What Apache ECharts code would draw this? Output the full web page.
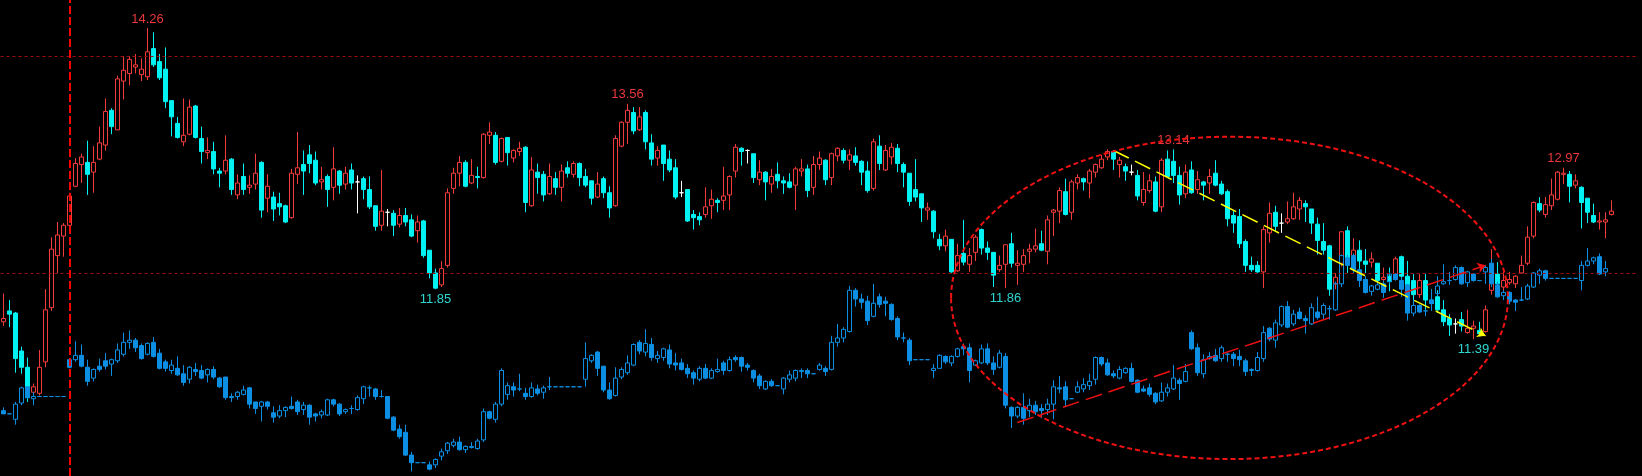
<!DOCTYPE html>
<html><head><meta charset="utf-8">
<script src="https://cdn.jsdelivr.net/npm/echarts@6/dist/echarts.min.js"></script>
<style>html,body{margin:0;padding:0;background:#000;}#c{width:1642px;height:476px;}</style>
</head><body><div id="c"></div>
<script>
// [open, close, low, high]
const upperCandles = [
[11.55,11.58,11.51,11.81],[11.65,11.62,11.50,11.75],[11.63,11.21,11.08,11.64],[11.28,11.13,11.07,11.32],[11.13,10.85,10.81,11.22],
[10.90,10.95,10.87,10.98],[10.89,11.13,10.87,11.29],[11.18,11.66,11.13,11.85],[11.68,12.22,11.65,12.33],[12.16,12.35,12.00,12.47],
[12.34,12.44,12.15,12.46],[12.44,12.71,12.43,12.74],[12.80,13.01,12.79,13.06],[13.00,13.07,12.83,13.10],[13.02,12.91,12.72,13.22],
[12.93,13.02,12.74,13.17],[13.05,13.20,13.04,13.35],[13.18,13.49,13.13,13.61],[13.50,13.35,13.28,13.52],[13.32,13.79,13.32,13.82],
[13.77,13.87,13.60,14.00],[13.84,13.97,13.73,14.00],[13.90,13.92,13.84,14.02],[13.83,13.88,13.77,13.98],[13.81,14.04,13.78,14.26],
[14.07,13.92,13.90,14.22],[13.95,13.80,13.78,14.02],[13.88,13.58,13.52,14.08],[13.59,13.44,13.26,13.59],[13.38,13.25,13.24,13.44],
[13.21,13.27,13.17,13.61],[13.28,13.53,13.27,13.60],[13.54,13.25,13.24,13.55],[13.24,13.12,13.01,13.35],[13.11,13.13,13.05,13.25],
[13.12,12.96,12.91,13.21],[12.94,12.92,12.79,12.97],[12.94,13.04,12.91,13.27],[13.05,12.77,12.72,13.06],[12.72,12.83,12.68,12.91],
[12.89,12.77,12.72,13.01],[12.79,12.81,12.73,12.90],[12.82,12.92,12.77,13.10],[13.02,12.58,12.51,13.03],[12.69,12.80,12.56,12.91],
[12.70,12.59,12.48,12.75],[12.64,12.61,12.53,12.74],[12.62,12.47,12.46,12.63],[12.51,12.92,12.50,12.96],[12.91,12.97,12.82,13.30],
[13.00,12.94,12.72,13.13],[13.09,13.01,12.92,13.18],[13.04,12.83,12.81,13.12],[12.84,12.86,12.77,12.98],[12.89,12.77,12.61,12.91],
[12.79,12.96,12.67,13.16],[12.94,12.81,12.73,12.95],[12.82,12.92,12.77,12.98],[12.95,12.83,12.77,13.01],[12.84,12.84,12.55,12.90],
[12.87,12.77,12.68,12.89],[12.77,12.61,12.59,12.89],[12.62,12.43,12.39,12.62],[12.44,12.57,12.39,12.95],[12.56,12.56,12.43,12.59],
[12.55,12.44,12.34,12.58],[12.45,12.53,12.42,12.60],[12.53,12.47,12.43,12.60],[12.49,12.34,12.33,12.54],[12.39,12.47,12.28,12.53],
[12.48,12.16,12.14,12.49],[12.21,12.00,11.95,12.21],[12.00,11.86,11.85,12.04],[11.89,12.04,11.87,12.11],[12.07,12.74,12.05,12.78],
[12.78,12.92,12.73,12.97],[12.92,13.02,12.80,13.08],[13.02,12.80,12.79,13.04],[12.83,12.90,12.82,13.05],[12.89,12.88,12.78,12.98],
[12.88,13.28,12.87,13.29],[13.27,13.30,13.19,13.39],[13.27,13.02,13.00,13.30],[13.03,13.24,13.02,13.25],[13.25,13.11,12.99,13.25],
[13.06,13.13,13.02,13.14],[13.12,13.15,13.08,13.21],[13.16,12.65,12.56,13.17],[12.62,12.95,12.61,13.07],[12.93,12.88,12.73,13.01],
[12.91,12.72,12.66,12.94],[12.73,12.89,12.72,13.01],[12.87,12.79,12.72,12.93],[12.79,12.94,12.66,13.00],[12.97,12.92,12.88,13.03],
[12.91,13.01,12.88,13.03],[13.01,12.88,12.80,13.02],[12.89,12.81,12.79,12.96],[12.85,12.69,12.63,12.85],[12.70,12.82,12.69,12.93],
[12.87,12.74,12.69,12.89],[12.74,12.60,12.51,12.80],[12.62,13.24,12.61,13.27],[13.17,13.39,13.16,13.40],[13.39,13.50,13.19,13.56],
[13.48,13.31,13.28,13.53],[13.32,13.44,13.31,13.53],[13.48,13.21,13.14,13.50],[13.20,13.05,12.99,13.28],[13.06,13.13,12.99,13.17],
[13.18,13.01,12.85,13.18],[13.05,12.95,12.93,13.13],[12.97,12.70,12.68,13.05],[12.74,12.74,12.70,12.85],[12.77,12.48,12.47,12.77],
[12.54,12.51,12.40,12.58],[12.52,12.49,12.44,12.56],[12.54,12.61,12.51,12.79],[12.62,12.68,12.50,12.77],[12.67,12.65,12.56,12.69],
[12.67,12.71,12.58,12.98],[12.72,12.89,12.58,12.90],[12.94,13.16,12.88,13.19],[13.15,13.12,12.99,13.16],[13.13,13.13,13.01,13.14],
[13.10,12.88,12.83,13.10],[12.86,12.93,12.81,13.04],[12.93,12.84,12.67,12.94],[12.82,12.89,12.74,12.96],[12.91,12.85,12.78,13.02],
[12.85,12.83,12.73,12.89],[12.84,12.79,12.78,12.92],[12.81,12.96,12.58,12.98],[12.94,12.96,12.89,13.05],[12.96,12.76,12.70,13.00],
[12.79,13.00,12.72,13.08],[13.00,13.06,12.95,13.12],[13.04,12.86,12.81,13.05],[12.88,13.10,12.81,13.11],[13.08,13.15,13.03,13.16],
[13.13,13.04,13.01,13.15],[13.04,13.09,12.95,13.14],[13.08,13.02,12.99,13.16],[13.03,12.93,12.81,13.04],[12.94,12.76,12.74,13.03],
[12.78,13.21,12.76,13.24],[13.17,13.01,12.95,13.27],[12.95,13.13,12.94,13.18],[13.07,13.16,13.00,13.20],[13.15,13.01,12.93,13.19],
[13.00,12.93,12.79,13.02],[12.92,12.66,12.62,12.92],[12.77,12.70,12.66,13.05],[12.73,12.60,12.47,12.73],[12.58,12.60,12.49,12.65],
[12.57,12.38,12.32,12.58],[12.31,12.25,12.21,12.36],[12.25,12.34,12.20,12.40],[12.31,12.01,12.00,12.31],[12.02,12.16,12.01,12.27],
[12.18,12.10,12.07,12.49],[12.08,12.16,12.01,12.23],[12.19,12.33,12.11,12.35],[12.40,12.23,12.17,12.41],[12.23,12.19,12.12,12.29],
[12.19,11.98,11.87,12.19],[12.03,12.07,12.01,12.16],[12.08,12.26,11.86,12.26],[12.27,12.09,12.05,12.37],[12.07,12.09,11.89,12.21],
[12.08,12.16,12.01,12.22],[12.20,12.22,12.09,12.27],[12.22,12.25,12.19,12.41],[12.27,12.21,12.20,12.39],[12.20,12.49,12.08,12.53],
[12.56,12.58,12.34,12.59],[12.57,12.76,12.46,12.79],[12.75,12.54,12.53,12.87],[12.56,12.84,12.49,12.86],[12.83,12.88,12.77,12.91],
[12.87,12.84,12.76,12.88],[12.83,12.94,12.69,12.96],[12.93,13.00,12.88,13.01],[12.97,13.05,12.96,13.09],[13.07,13.12,13.04,13.14],
[13.12,13.05,12.95,13.13],[13.00,13.04,12.88,13.07],[12.98,12.94,12.85,13.01],[12.93,12.93,12.90,13.00],[12.90,12.71,12.67,12.95],
[12.65,12.77,12.62,12.93],[12.76,12.85,12.74,12.91],[12.84,12.57,12.56,12.89],[12.61,13.04,12.56,13.06],[13.05,12.89,12.88,13.13],
[13.03,12.90,12.83,13.14],[12.90,12.72,12.63,12.98],[12.73,12.93,12.69,13.00],[12.95,12.74,12.73,13.03],[12.77,12.86,12.73,12.94],
[12.84,12.81,12.67,12.85],[12.83,12.89,12.73,12.96],[12.92,12.81,12.80,13.04],[12.82,12.73,12.72,12.85],[12.75,12.50,12.43,12.77],
[12.53,12.46,12.37,12.58],[12.52,12.27,12.23,12.59],[12.29,12.07,12.01,12.31],[12.07,12.03,12.01,12.15],[12.07,12.01,12.00,12.11],
[12.01,12.40,11.86,12.43],[12.37,12.55,12.28,12.65],[12.56,12.43,12.38,12.62],[12.46,12.46,12.37,12.55],[12.47,12.50,12.45,12.66],
[12.50,12.61,12.49,12.74],[12.59,12.67,12.49,12.70],[12.64,12.61,12.47,12.67],[12.59,12.46,12.36,12.59],[12.45,12.30,12.17,12.51],
[12.29,12.21,12.17,12.46],[12.25,11.85,11.79,12.26],[11.90,11.96,11.85,12.00],[12.09,12.38,12.06,12.38],[12.39,12.09,12.00,12.43],
[12.16,12.21,12.09,12.32],[12.21,12.11,12.03,12.30],[12.11,12.08,12.00,12.22],[12.10,12.13,12.05,12.19],[12.09,11.93,11.90,12.09],
[11.94,11.96,11.86,12.05],[11.97,11.92,11.83,12.05],[11.94,12.13,11.93,12.15],[12.15,11.97,11.93,12.16],[11.97,11.89,11.82,12.11],
[11.93,11.80,11.73,11.99],[11.80,11.93,11.77,11.99],[11.93,11.75,11.66,11.99],[11.75,11.72,11.66,11.85],[11.78,11.66,11.63,11.84],
[11.66,11.55,11.51,11.75],[11.58,11.52,11.42,11.62],[11.53,11.53,11.44,11.58],[11.57,11.51,11.46,11.64],[11.45,11.49,11.44,11.66],
[11.49,11.51,11.39,11.56],[11.47,11.44,11.43,11.55],[11.46,11.66,11.45,11.70],[11.84,11.99,11.80,12.22],[11.99,11.90,11.84,12.10],
[11.87,11.93,11.84,12.01],[11.91,11.94,11.89,12.01],[11.90,11.97,11.86,11.98],[12.00,12.07,11.99,12.16],[12.09,12.33,12.07,12.43],
[12.34,12.65,12.32,12.66],[12.64,12.58,12.56,12.70],[12.54,12.63,12.51,12.70],[12.62,12.72,12.58,12.87],[12.68,12.93,12.67,12.94],
[12.91,12.92,12.82,12.97],[12.91,12.80,12.65,12.94],[12.81,12.85,12.78,12.91],[12.79,12.65,12.41,12.80],[12.69,12.56,12.46,12.69],
[12.53,12.47,12.46,12.64],[12.47,12.48,12.40,12.56],[12.47,12.49,12.32,12.56],[12.54,12.57,12.53,12.67]
];
const lowerCandles = [
[10.73,10.70,10.70,10.76],[10.70,10.70,10.70,10.70],[10.65,10.79,10.60,10.81],[10.80,10.94,10.78,10.95],[10.95,10.85,10.84,10.95],
[10.84,10.86,10.78,10.90],[10.86,10.86,10.86,10.86],[10.86,10.86,10.86,10.86],[10.86,10.86,10.86,10.86],[10.86,10.86,10.86,10.86],
[10.86,10.86,10.86,10.86],[11.20,11.13,11.12,11.20],[11.20,11.24,11.18,11.37],[11.24,11.14,11.13,11.34],[11.13,11.00,10.96,11.20],
[11.03,11.11,11.00,11.12],[11.14,11.11,11.09,11.21],[11.19,11.14,11.11,11.26],[11.16,11.20,11.05,11.21],[11.19,11.29,11.17,11.35],
[11.25,11.36,11.23,11.45],[11.36,11.38,11.30,11.47],[11.38,11.31,11.27,11.40],[11.33,11.21,11.20,11.35],[11.25,11.35,11.24,11.36],
[11.36,11.23,11.22,11.41],[11.26,11.12,11.11,11.30],[11.18,11.12,11.09,11.20],[11.10,11.15,11.07,11.20],[11.12,11.06,11.05,11.23],
[11.07,10.99,10.96,11.15],[11.02,11.13,10.98,11.14],[11.11,11.09,11.05,11.17],[11.10,11.03,11.02,11.15],[11.06,11.11,10.99,11.12],
[11.11,11.04,11.02,11.14],[11.03,10.95,10.94,11.04],[11.04,10.85,10.83,11.04],[10.86,10.85,10.81,10.89],[10.86,10.90,10.83,10.91],
[10.88,10.92,10.87,10.96],[10.94,10.79,10.75,10.95],[10.81,10.75,10.70,10.81],[10.77,10.81,10.63,10.82],[10.81,10.77,10.74,10.82],
[10.71,10.67,10.62,10.77],[10.68,10.73,10.66,10.78],[10.73,10.76,10.67,10.77],[10.77,10.75,10.74,10.86],[10.81,10.72,10.69,10.83],
[10.74,10.78,10.69,10.81],[10.78,10.67,10.60,10.79],[10.70,10.68,10.63,10.71],[10.69,10.72,10.66,10.74],[10.69,10.83,10.68,10.84],
[10.83,10.79,10.77,10.84],[10.79,10.70,10.68,10.80],[10.72,10.74,10.70,10.75],[10.75,10.75,10.70,10.78],[10.74,10.85,10.73,10.87],
[10.84,10.95,10.79,10.96],[10.94,10.94,10.86,10.96],[10.93,10.86,10.83,10.94],[10.86,10.86,10.85,10.92],[10.86,10.66,10.65,10.86],
[10.67,10.55,10.54,10.68],[10.56,10.49,10.47,10.60],[10.53,10.32,10.31,10.60],[10.32,10.25,10.17,10.35],[10.25,10.25,10.25,10.25],
[10.25,10.25,10.25,10.25],[10.23,10.19,10.18,10.26],[10.23,10.28,10.20,10.29],[10.31,10.35,10.27,10.38],[10.36,10.43,10.33,10.44],
[10.41,10.44,10.39,10.47],[10.44,10.37,10.36,10.49],[10.37,10.40,10.34,10.41],[10.39,10.40,10.38,10.44],[10.38,10.45,10.37,10.47],
[10.46,10.72,10.44,10.75],[10.72,10.66,10.65,10.73],[10.65,10.79,10.62,10.81],[10.79,11.10,10.77,11.12],[10.88,10.96,10.83,10.99],
[10.95,10.92,10.86,10.99],[10.93,10.93,10.91,11.07],[10.89,10.86,10.83,10.94],[10.86,10.94,10.85,10.99],[10.93,10.89,10.87,10.97],
[10.90,10.94,10.84,10.96],[10.95,10.95,10.92,11.04],[10.95,10.95,10.95,10.95],[10.95,10.95,10.95,10.95],[10.95,10.95,10.95,10.95],
[10.95,10.95,10.95,10.95],[10.95,10.95,10.95,10.95],[11.02,11.21,10.95,11.36],[11.19,11.24,11.17,11.25],[11.27,11.12,11.05,11.28],
[11.14,10.92,10.90,11.14],[10.92,10.84,10.83,10.99],[10.87,11.03,10.86,11.13],[11.04,11.11,11.02,11.13],[11.08,11.17,11.06,11.24],
[11.15,11.34,11.14,11.35],[11.36,11.28,11.25,11.38],[11.27,11.35,11.23,11.48],[11.34,11.22,11.19,11.40],[11.21,11.24,11.17,11.28],
[11.22,11.30,11.19,11.31],[11.29,11.16,11.12,11.34],[11.17,11.15,11.10,11.26],[11.17,11.11,11.10,11.21],[11.12,11.07,11.03,11.16],
[11.08,11.03,10.97,11.10],[11.02,11.12,11.00,11.14],[11.12,11.03,11.02,11.16],[11.03,11.10,11.02,11.12],[11.09,11.11,11.08,11.21],
[11.17,11.10,11.06,11.19],[11.10,11.20,11.09,11.23],[11.22,11.20,11.18,11.24],[11.22,11.14,11.09,11.23],[11.15,11.13,11.10,11.17],
[11.10,11.03,10.99,11.11],[11.05,10.96,10.93,11.07],[10.93,11.00,10.92,11.01],[11.00,10.96,10.95,11.02],[10.96,10.96,10.96,10.96],
[10.93,11.03,10.88,11.04],[11.02,11.06,10.99,11.10],[11.03,11.10,11.00,11.11],[11.09,11.10,11.03,11.12],[11.10,11.07,11.03,11.12],
[11.07,11.07,11.07,11.07],[11.11,11.15,11.10,11.17],[11.12,11.09,11.05,11.14],[11.11,11.36,11.10,11.42],[11.36,11.40,11.32,11.53],
[11.40,11.48,11.36,11.50],[11.46,11.84,11.45,11.88],[11.84,11.76,11.69,11.86],[11.76,11.73,11.67,11.81],[11.74,11.56,11.52,11.79],
[11.60,11.72,11.59,11.90],[11.78,11.71,11.68,11.81],[11.74,11.72,11.60,11.78],[11.71,11.57,11.56,11.72],[11.58,11.41,11.38,11.60],
[11.40,11.40,11.36,11.45],[11.38,11.19,11.15,11.40],[11.20,11.20,11.20,11.20],[11.20,11.20,11.20,11.20],[11.20,11.20,11.20,11.20],
[11.10,11.12,11.03,11.16],[11.12,11.24,11.12,11.25],[11.23,11.18,11.16,11.24],[11.17,11.23,11.14,11.24],[11.23,11.30,11.22,11.31],
[11.32,11.30,11.24,11.35],[11.31,11.10,10.99,11.35],[11.15,11.19,11.14,11.20],[11.17,11.30,11.16,11.34],[11.30,11.17,11.15,11.35],
[11.17,11.11,11.06,11.23],[11.13,11.26,11.12,11.29],[11.23,10.78,10.75,11.26],[10.76,10.68,10.57,10.77],[10.68,10.76,10.66,10.77],
[10.76,10.66,10.60,10.89],[10.73,10.78,10.67,10.84],[10.78,10.72,10.69,10.82],[10.75,10.73,10.66,10.79],[10.74,10.79,10.69,10.84],
[10.79,10.95,10.65,11.01],[10.94,10.93,10.89,11.05],[10.95,10.83,10.77,11.00],[10.84,10.84,10.84,10.84],[10.90,10.95,10.89,11.00],
[10.93,10.97,10.90,11.03],[10.96,11.00,10.92,11.07],[11.02,11.22,10.97,11.23],[11.22,11.16,11.14,11.23],[11.17,11.06,11.05,11.21],
[11.07,11.05,11.03,11.10],[11.03,11.11,11.02,11.14],[11.08,11.12,11.07,11.13],[11.12,11.00,10.99,11.17],[11.01,10.90,10.89,11.02],
[10.93,10.91,10.90,10.96],[10.94,10.88,10.86,10.98],[10.89,10.81,10.79,10.90],[10.82,10.90,10.81,10.99],[10.90,10.94,10.86,10.98],
[10.93,11.03,10.92,11.15],[11.01,10.98,10.83,11.03],[11.00,11.09,10.99,11.16],[11.45,11.30,11.29,11.47],[11.31,11.08,11.05,11.35],
[11.07,11.20,11.03,11.25],[11.21,11.23,11.20,11.27],[11.24,11.19,11.18,11.30],[11.21,11.31,11.18,11.33],[11.25,11.25,11.18,11.26],
[11.25,11.21,11.14,11.27],[11.23,11.20,11.14,11.29],[11.19,11.09,11.05,11.21],[11.10,11.11,11.05,11.12],[11.10,11.22,11.09,11.27],
[11.21,11.45,11.18,11.51],[11.49,11.39,11.37,11.50],[11.38,11.54,11.31,11.57],[11.52,11.69,11.50,11.70],[11.69,11.50,11.49,11.74],
[11.53,11.62,11.51,11.66],[11.64,11.58,11.57,11.68],[11.58,11.56,11.44,11.61],[11.53,11.68,11.52,11.72],[11.64,11.59,11.57,11.78],
[11.62,11.70,11.57,11.72],[11.67,11.67,11.57,11.70],[11.66,11.90,11.65,11.92],[11.90,12.16,11.87,12.17],[12.14,12.07,12.06,12.17],
[12.16,12.03,12.00,12.18],[12.03,11.93,11.87,12.04],[11.94,11.82,11.81,11.97],[11.83,11.88,11.79,11.89],[11.85,11.89,11.84,11.92],
[11.90,11.82,11.77,11.93],[11.92,11.99,11.90,12.01],[11.99,11.94,11.93,12.00],[11.93,11.85,11.78,11.96],[11.89,11.63,11.56,11.90],
[11.63,11.70,11.60,11.75],[11.70,11.64,11.63,11.71],[11.65,11.65,11.60,11.66],[11.75,11.72,11.65,11.85],[11.81,11.88,11.79,11.97],
[11.90,11.92,11.89,12.08],[11.93,11.93,11.89,12.01],[11.94,12.05,11.93,12.07],[12.05,11.90,11.89,12.06],[11.91,12.01,11.87,12.02],
[11.99,11.93,11.92,12.00],[11.93,11.93,11.93,11.93],[12.01,12.05,11.90,12.07],[12.09,11.90,11.87,12.13],[11.89,11.78,11.77,11.92],
[11.79,11.82,11.75,11.84],[11.82,11.74,11.71,11.83],[11.75,11.73,11.65,11.76],[11.75,11.75,11.74,11.87],[11.76,11.88,11.75,11.90],
[11.87,12.00,11.86,12.01],[11.98,12.02,11.90,12.04],[12.02,11.95,11.93,12.03],[11.95,11.95,11.95,11.95],[11.95,11.95,11.95,11.95],
[11.95,11.95,11.95,11.95],[11.95,11.95,11.95,11.95],[11.95,11.95,11.95,11.95],[11.93,12.07,11.84,12.11],[12.07,12.11,12.06,12.23],
[12.11,12.14,12.08,12.15],[12.15,11.99,11.98,12.18],[12.01,12.04,11.97,12.11]
];
const highLabels = [[24, 14.26], [104, 13.56], [195, 13.14], [260, 12.97]];
const lowLabels = [[72, 11.85], [167, 11.86], [245, 11.39]];
const refLevels = [14.0, 12.0];
const markerBar = 11;
const yellowTrend = [[185, 13.13], [247, 11.42]];
const redTrend = [[169, 10.62], [247, 12.07]];
const ellipseSpec = { centerBar: 204, centerShift: 0.33, centerPrice: 11.77, radiusBars: 46.4, radiusPrice: 1.487 };
const barCount = 273;

const categories = Array.from({ length: barCount }, (_, i) => String(i));
const pad = arr => arr.concat(Array(barCount - arr.length).fill('-'));

const chart = echarts.init(document.getElementById('c'), null, { renderer: 'canvas' });
const FONT = '"Liberation Sans", Arial, sans-serif';
chart.setOption({
  backgroundColor: '#000000',
  animation: false,
  grid: { left: 0.5, right: 3.5, top: 0, bottom: 0, containLabel: false },
  xAxis: { type: 'category', data: categories, boundaryGap: true, show: false },
  yAxis: { type: 'value', min: 10.127, max: 14.518, show: false, splitLine: { show: false }, scale: true },
  series: [
    {
      name: 'upper', type: 'candlestick', data: pad(upperCandles), barWidth: 4,
      itemStyle: { color: 'rgba(0,0,0,0)', color0: '#00f2f2', borderColor: '#f23c3c', borderColor0: '#00f2f2', borderColorDoji: '#ffffff', borderWidth: 1 },
      markPoint: {
        symbol: 'rect', symbolSize: 1, silent: true,
        itemStyle: { color: 'rgba(0,0,0,0)' },
        label: { show: true, fontFamily: FONT, fontSize: 13, formatter: p => Number(p.value).toFixed(2) },
        data: highLabels.map(([i, v]) => ({ coord: [i, v], value: v, label: { color: '#e8383c', offset: [0, -9] } }))
          .concat(lowLabels.map(([i, v]) => ({ coord: [i, v], value: v, label: { color: '#2fd6d0', offset: [0, 10] } })))
      },
      markLine: {
        silent: true, symbol: 'none', label: { show: false },
        data: refLevels.map(v => ({ yAxis: v, lineStyle: { color: '#a00c0c', width: 1, type: [3, 3] } }))
          .concat([{ xAxis: markerBar, lineStyle: { color: '#ff0000', width: 2, type: [8, 3] } }])
          .concat([[
            { coord: yellowTrend[0], symbol: 'none', lineStyle: { color: '#ffff00', width: 1.5, type: [17, 7] } },
            { coord: yellowTrend[1], symbol: 'arrow', symbolSize: 8 }
          ], [
            { coord: redTrend[0], symbol: 'none', lineStyle: { color: '#ee1111', width: 1.5, type: [17, 7] } },
            { coord: redTrend[1], symbol: 'arrow', symbolSize: 8 }
          ]])
      }
    },
    {
      name: 'lower', type: 'candlestick', data: pad(lowerCandles), barWidth: 4,
      itemStyle: { color: 'rgba(0,0,0,0)', color0: '#0c8fe2', borderColor: '#0c8fe2', borderColor0: '#0c8fe2', borderColorDoji: '#0c8fe2', borderWidth: 1 }
    }
  ]
});

const p0 = chart.convertToPixel({ gridIndex: 0 }, [ellipseSpec.centerBar, ellipseSpec.centerPrice]);
const p1 = chart.convertToPixel({ gridIndex: 0 }, [ellipseSpec.centerBar + 1, ellipseSpec.centerPrice + ellipseSpec.radiusPrice]);
const unit = p1[0] - p0[0];
chart.setOption({
  graphic: [{
    type: 'ellipse', silent: true, z: 100,
    shape: { cx: p0[0] + ellipseSpec.centerShift * unit, cy: p0[1], rx: ellipseSpec.radiusBars * unit, ry: p0[1] - p1[1] },
    style: { fill: 'none', stroke: '#f01212', lineWidth: 2, lineDash: [5, 3] }
  }]
});
</script>
</body></html>
